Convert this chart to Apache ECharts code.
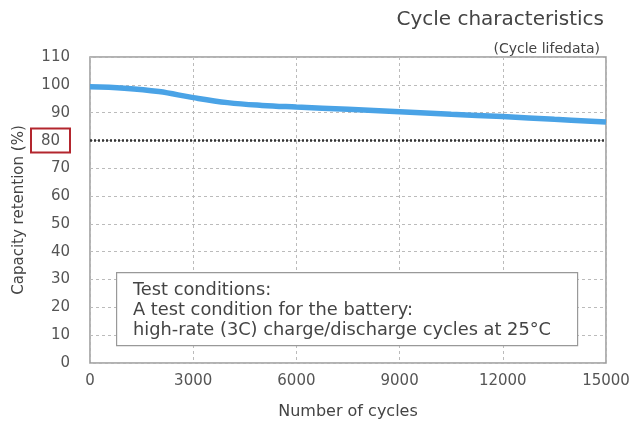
<!DOCTYPE html>
<html>
<head>
<meta charset="utf-8">
<script src="https://cdn.jsdelivr.net/npm/echarts@6/dist/echarts.min.js"></script>
<style>
  html, body { margin: 0; padding: 0; background: #fff; }
  #chart { width: 629px; height: 423px; }
</style>
</head>
<body>
<div id="chart"></div>
<script>
// 循环次数 / 容量保持率
var cycles = [0, 1000, 2000, 3000, 4000, 5000, 6000, 7500, 9000, 10500, 12000, 13500, 15000];
var retention = [99.3, 98.8, 97.6, 95.4, 93.6, 92.6, 92.0, 91.2, 90.3, 89.4, 88.6, 87.6, 86.6];
var limitLine = 80;
var conditionText = [
    'Test conditions:',
    'A test condition for the battery:',
    'high-rate (3C) charge/discharge cycles at 25°C'
];

var myechart = echarts.init(document.getElementById('chart'));

var option = {
    animation: false,
    textStyle: { fontFamily: 'DejaVu Sans' },
    title: [
        {
            text: 'Cycle characteristics',
            right: 20, top: 5,
            textStyle: { fontSize: 20, fontWeight: 'normal', color: '#444' }
        },
        {
            text: '(Cycle lifedata)',
            right: 24, top: 37,
            textStyle: { fontSize: 14, fontWeight: 'normal', color: '#444' }
        }
    ],
    grid: {
        left: 90, right: 23, top: 57, bottom: 60,
        outerBoundsMode: 'none', containLabel: false,
        show: true, borderColor: '#999', borderWidth: 1.5
    },
    xAxis: {
        type: 'value',
        min: 0, max: 15000, interval: 3000,
        name: 'Number of cycles',
        nameLocation: 'middle',
        nameGap: 41,
        nameTextStyle: { fontSize: 16, color: '#444' },
        axisLine: { show: false },
        axisTick: { show: false },
        axisLabel: {
            fontSize: 15, color: '#555', margin: 11,
            formatter: function (v) { return String(v); }
        },
        splitLine: { show: true, lineStyle: { type: [3, 3], color: '#bbb' } }
    },
    yAxis: {
        type: 'value',
        min: 0, max: 110, interval: 10,
        name: 'Capacity retention (%)',
        nameLocation: 'middle',
        nameGap: 63,
        nameMoveOverlap: false,
        nameTextStyle: { fontSize: 15, color: '#444' },
        axisLine: { show: false },
        axisTick: { show: false },
        axisLabel: {
            fontSize: 15, color: '#555', margin: 20,
            formatter: function (v) { return v === limitLine ? '{box|' + v + '}' : v; },
            rich: {
                box: {
                    fontSize: 15, color: '#555',
                    borderColor: '#b3262e', borderWidth: 2,
                    padding: [5, 10, 4, 10], width: 19, align: 'center'
                }
            }
        },
        splitLine: { show: true, lineStyle: { type: [3, 3], color: '#bbb' } }
    },
    series: [
        {
            type: 'line',
            data: cycles.map(function (c, i) { return [c, retention[i]]; }),
            smooth: 0.4,
            symbol: 'none',
            lineStyle: { width: 5.5, color: '#4aa3e6' },
            markLine: {
                silent: true,
                symbol: 'none',
                label: { show: false },
                lineStyle: { type: [2, 2], width: 2.5, color: '#333' },
                data: [{ yAxis: limitLine }]
            },
            z: 3
        }
    ],
    graphic: [
        {
            type: 'rect',
            left: 116, top: 272,
            shape: { width: 461, height: 73 },
            style: { fill: '#fff', stroke: '#999', lineWidth: 1.2 },
            z: 10
        },
        {
            type: 'text',
            left: 133, top: 280,
            style: {
                text: conditionText.join('\n'),
                fontSize: 17.8, lineHeight: 20,
                fill: '#444', fontFamily: 'DejaVu Sans'
            },
            z: 11
        }
    ]
};

myechart.setOption(option);

window.addEventListener('resize', function () {
    myechart.resize();
});
</script>
</body>
</html>
